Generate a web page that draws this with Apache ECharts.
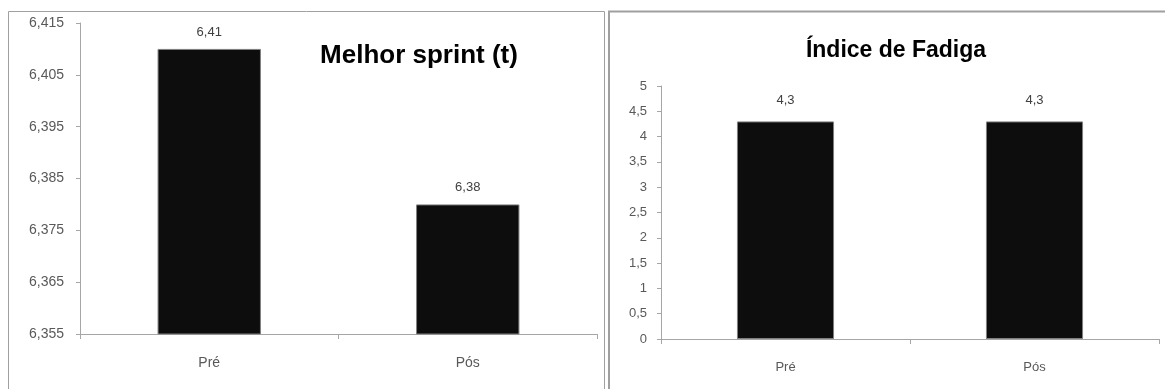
<!DOCTYPE html>
<html>
<head>
<meta charset="utf-8">
<script src="https://cdn.jsdelivr.net/npm/echarts@6/dist/echarts.min.js"></script>
<style>
html,body{margin:0;padding:0;background:#fff;}
#c{width:1165px;height:389px;}
</style>
</head>
<body>
<div id="c"></div>
<script>
var categories = ['Pré', 'Pós'];
var sprintValues = [6.41, 6.38];
var fadigaValues = [4.3, 4.3];
var sprintTitle = 'Melhor sprint (t)';
var fadigaTitle = 'Índice de Fadiga';

var FONT = '"Liberation Sans", Arial, sans-serif';
var chart = echarts.init(document.getElementById('c'), null, {renderer: 'canvas'});

function fmt(dec) {
  return function (v) { return (Math.round(v * 1000) / 1000).toFixed(dec).replace('.', ','); };
}
function fmtTrim(v) {
  var s = String(Math.round(v * 1000) / 1000);
  return s.replace('.', ',');
}

var axisLineStyle = {color: '#a6a6a6', width: 1};

chart.setOption({
  animation: false,
  graphic: [
    {type: 'rect', shape: {x: 8.5, y: 11.5, width: 596, height: 400}, style: {fill: 'none', stroke: '#a0a0a0', lineWidth: 1}, silent: true},
    {type: 'rect', shape: {x: 609, y: 11.5, width: 600, height: 400}, style: {fill: 'none', stroke: '#a0a0a0', lineWidth: 2}, silent: true}
  ],
  title: [
    {text: sprintTitle, left: 414, top: 38, textAlign: 'center',
     textStyle: {fontFamily: FONT, fontSize: 26, fontWeight: 'bold', color: '#000'}},
    {text: fadigaTitle, left: 891, top: 34, textAlign: 'center',
     textStyle: {fontFamily: FONT, fontSize: 23, fontWeight: 'bold', color: '#000'}}
  ],
  grid: [
    {left: 80, right: 568, top: 23, bottom: 55},
    {left: 661, right: 6, top: 86, bottom: 50}
  ],
  xAxis: [
    {type: 'category', gridIndex: 0, data: categories,
     axisLine: {lineStyle: axisLineStyle},
     axisTick: {show: true, length: 5, lineStyle: axisLineStyle, alignWithLabel: false},
     axisLabel: {fontFamily: FONT, fontSize: 14, color: '#595959', margin: 22}},
    {type: 'category', gridIndex: 1, data: categories,
     axisLine: {lineStyle: axisLineStyle},
     axisTick: {show: true, length: 5, lineStyle: axisLineStyle, alignWithLabel: false},
     axisLabel: {fontFamily: FONT, fontSize: 13, color: '#595959', margin: 22}}
  ],
  yAxis: [
    {type: 'value', gridIndex: 0, min: 6.355, max: 6.415, interval: 0.01,
     splitLine: {show: false},
     axisLine: {show: true, lineStyle: axisLineStyle},
     axisTick: {show: true, length: 4, lineStyle: axisLineStyle},
     axisLabel: {fontFamily: FONT, fontSize: 14, color: '#595959', margin: 16, formatter: fmt(3)}},
    {type: 'value', gridIndex: 1, min: 0, max: 5, interval: 0.5,
     splitLine: {show: false},
     axisLine: {show: true, lineStyle: axisLineStyle},
     axisTick: {show: true, length: 4, lineStyle: axisLineStyle},
     axisLabel: {fontFamily: FONT, fontSize: 13, color: '#595959', margin: 14, formatter: fmtTrim}}
  ],
  series: [
    {type: 'bar', xAxisIndex: 0, yAxisIndex: 0, data: sprintValues, barWidth: '40%',
     itemStyle: {color: '#0d0d0d', borderColor: '#808080', borderWidth: 1},
     label: {show: true, position: 'top', distance: 10, fontFamily: FONT, fontSize: 13, color: '#404040',
             formatter: function (p) { return fmtTrim(p.value); }}},
    {type: 'bar', xAxisIndex: 1, yAxisIndex: 1, data: fadigaValues, barWidth: '39%',
     itemStyle: {color: '#0d0d0d', borderColor: '#808080', borderWidth: 1},
     label: {show: true, position: 'top', distance: 14, fontFamily: FONT, fontSize: 13, color: '#404040',
             formatter: function (p) { return fmtTrim(p.value); }}}
  ]
});
</script>
</body>
</html>
